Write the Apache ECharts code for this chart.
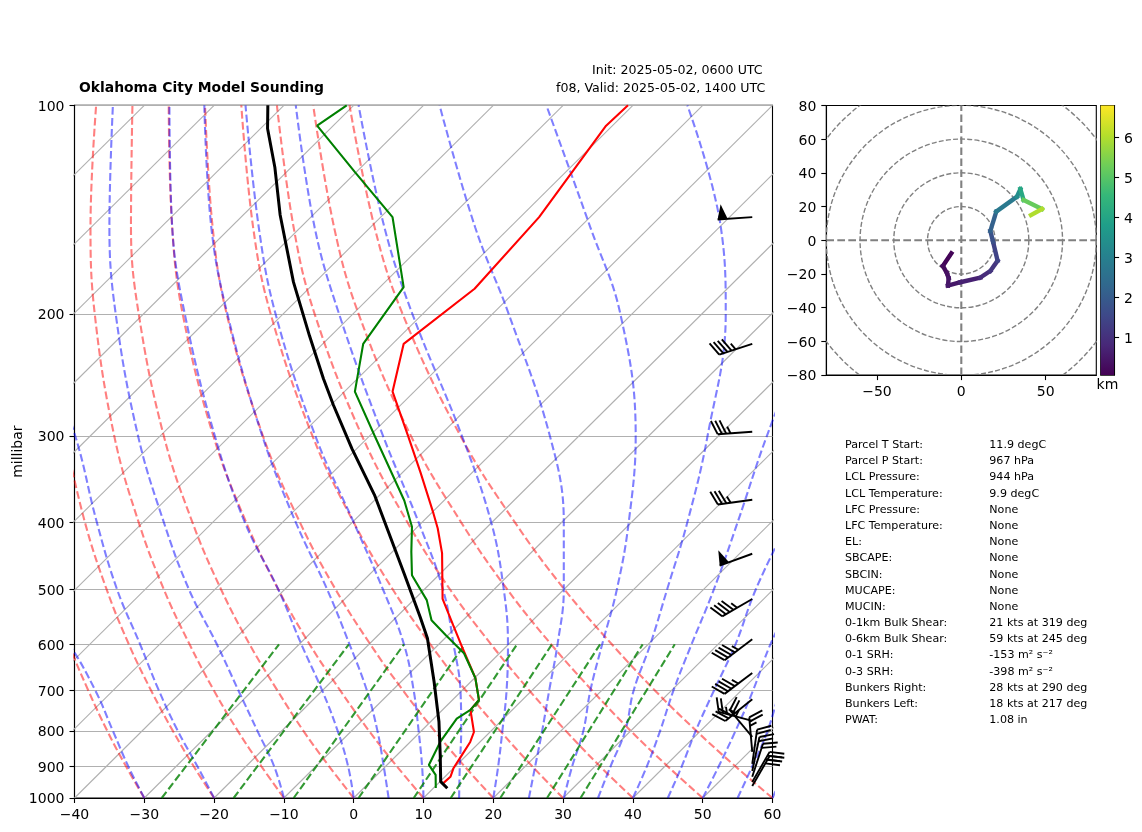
<!DOCTYPE html>
<html>
<head>
<meta charset="utf-8">
<title>Oklahoma City Model Sounding</title>
<script src="https://cdn.jsdelivr.net/npm/echarts@6/dist/echarts.min.js"></script>
<style>
  html, body { margin: 0; padding: 0; background: #fff; }
  #main { width: 1142px; height: 832px; }
</style>
</head>
<body>
<div id="main"></div>
<script>
// sounding profiles (hPa, degC)
var tempP = [100, 107, 145, 184, 221, 259, 300, 339, 388, 408, 443, 516, 563, 612, 671, 722, 746, 803, 830, 867, 906, 932, 951];
var tempC = [-60.7, -60.9, -57.3, -56.2, -58.4, -53.1, -44.5, -37.4, -29.7, -26.9, -22.7, -16, -10.7, -5.6, 0.1, 3.8, 4, 7.7, 8.6, 9.3, 10, 10.8, 10.7];
var dewP = [100, 107, 125, 145, 183, 221, 259, 299, 372, 406, 441, 477, 518, 554, 582, 618, 671, 722, 746, 768, 830, 896, 926, 967];
var dewC = [-101, -102.3, -90.1, -78.3, -66.6, -64.2, -58.5, -49.5, -35.7, -30.8, -27.3, -23.8, -18.1, -14.5, -10.3, -5.1, 0.1, 3.8, 4, 3.3, 4.3, 6, 8.4, 10.3];
var parcelP = [100, 108, 123, 144, 180, 215, 248, 271, 313, 365, 474, 548, 588, 679, 776, 867, 947, 968];
var parcelC = [-112.3, -109, -102.3, -94.7, -83.1, -73.1, -64.9, -59.6, -50.7, -40.8, -25.2, -16.6, -12.5, -5.3, 1.2, 6.2, 10.1, 12];

// wind barbs: pressure, speed in kts, direction in degrees
var barbP = [145, 221, 296, 371, 444, 516, 590, 660, 720, 774, 816, 858, 893, 914, 932, 948, 961];
var barbSpeed = [50, 45, 35, 35, 50, 45, 45, 45, 35, 25, 25, 25, 20, 20, 20, 30, 30];
var barbDir = [266, 252, 266, 262, 250, 240, 233, 233, 231, 285, 320, 355, 8, 12, 18, 30, 30];
var barbAxisT = 57.1;

// background lines
var pressureTicks = [100, 200, 300, 400, 500, 600, 700, 800, 900, 1000];
var isotherms = [-130, -120, -110, -100, -90, -80, -70, -60, -50, -40, -30, -20, -10, 0, 10, 20, 30, 40, 50, 60];
var curveLevels = [1000, 900, 800, 700, 600, 500, 400, 300, 200, 150, 100];
// dry adiabats, degC at curveLevels
var dryCurves = [
  [-30, -37.2, -45, -53.5, -63, -73.7],
  [-20, -27.5, -35.6, -44.5, -54.4, -65.5, -78.3, -93.7],
  [-10, -17.8, -26.3, -35.5, -45.7, -57.3, -70.6, -86.6, -107, -120.1, -136.9],
  [0, -8.1, -16.9, -26.4, -37.1, -49.1, -62.9, -79.5, -100.7, -114.3, -131.7],
  [10, 1.6, -7.5, -17.4, -28.5, -40.9, -55.2, -72.4, -94.4, -108.4, -126.5],
  [20, 11.3, 1.9, -8.4, -19.8, -32.7, -47.5, -65.3, -88.1, -102.6, -121.3],
  [30, 21, 11.3, 0.6, -11.2, -24.5, -39.8, -58.2, -81.8, -96.8, -116.1],
  [40, 30.7, 20.7, 9.7, -2.5, -16.3, -32.1, -51.1, -75.5, -91, -111],
  [50, 40.4, 30, 18.7, 6.1, -8.1, -24.4, -44.1, -69.2, -85.2, -105.8],
  [60, 50.1, 39.4, 27.7, 14.8, 0.1, -16.7, -37, -62.9, -79.4, -100.6]
];
// moist adiabats, reading on the bottom axis at curveLevels
var moistCurves = [
  [-30, -32.3, -34.5, -37, -40.8, -47],
  [-20, -22.4, -25.2, -27.9, -30.6, -33.9, -36.8, -39.9, -46],
  [-10, -11.4, -13.8, -16.5, -19.6, -23.6, -27.2, -30.9, -34.1, -35, -34.5],
  [0, -0.8, -2.3, -4.5, -7.5, -10.8, -15.6, -19.9, -24.2, -26, -26.4],
  [5, 4.3, 3.4, 1.9, -0.6, -3.8, -8.3, -13.1, -18.1, -20.4, -21.4],
  [10, 9.8, 9.3, 8.6, 7.2, 4.2, 0, -5.5, -11.2, -13.6, -15.5],
  [15.1, 15.2, 15.4, 15.3, 14.3, 12.8, 9.3, 4.2, -2.1, -5.6, -8.3],
  [20, 20.7, 21.3, 21.9, 22.1, 21.5, 19.7, 15.5, 8.4, 4.4, 0.7],
  [25.1, 26, 27, 28, 29.2, 30.1, 30.1, 28.1, 22.2, 17.4, 12.3],
  [30.1, 31.3, 32.9, 33.9, 35.6, 37.7, 39.4, 40.4, 38.2, 33.9, 27.6],
  [35, 36.8, 38.9, 40.1, 42.5, 44.9, 47.8, 50.7, 53.3, 52.6, 47.8],
  [40, 42, 43.9, 45.8, 48.4, 51.6, 55, 59.2, 66],
  [45, 47, 49, 51.6, 54.7, 57.6, 62.2],
  [50, 52.3, 54.7, 57.2, 59.7, 63.5],
  [55, 57.1, 59.3, 61],
  [60, 62]
];
// mixing ratio lines, reading on the bottom axis at 1000 and 600 hPa
var mixingBottom = [-27.5, -17.2, -8.6, 0.7, 8.6, 13.9, 21, 27.7, 32.5];
var mixingTop = [-10.7, -0.7, 7.2, 15.9, 23.4, 28.4, 35.3, 41.4, 46];

// hodograph
var hodoU = [-5.9, -10.9, -8.5, -7.5, -7.9, -0.6, 11.3, 17.2, 21.5, 18.8, 17.2, 20.7, 33, 35, 36.9, 47.8, 41.3];
var hodoV = [-7.7, -15.2, -19.6, -22.5, -26.9, -24.9, -22.1, -18.2, -12.1, -0.8, 5.5, 17, 25.9, 30.4, 23.9, 18.6, 15];
var hodoKm = [0.06, 0.2, 0.3, 0.4, 0.45, 0.55, 0.8, 1, 1.25, 1.6, 1.9, 2.4, 3.2, 3.5, 4.7, 5.7, 6.3];
var hodoRings = [20, 40, 60, 80, 100];
var viridis = ['#440154', '#482878', '#3e4989', '#31688e', '#26828e', '#1f9e89', '#35b779', '#6ece58', '#b5de2b', '#fde725'];

// parcel text table
var infoLabels = ['Parcel T Start:', 'Parcel P Start:', 'LCL Pressure:', 'LCL Temperature:', 'LFC Pressure:', 'LFC Temperature:', 'EL:', 'SBCAPE:', 'SBCIN:', 'MUCAPE:', 'MUCIN:', '0-1km Bulk Shear:', '0-6km Bulk Shear:', '0-1 SRH:', '0-3 SRH:', 'Bunkers Right:', 'Bunkers Left:', 'PWAT:'];
var infoValues = ['11.9 degC', '967 hPa', '944 hPa', '9.9 degC', 'None', 'None', 'None', 'None', 'None', 'None', 'None', '21 kts at 319 deg', '59 kts at 245 deg', '-153 m\u00b2 s\u207b\u00b2', '-398 m\u00b2 s\u207b\u00b2', '28 kts at 290 deg', '18 kts at 217 deg', '1.08 in'];

var FONT = '"DejaVu Sans"';
var KM_MIN = 0.057, KM_MAX = 6.8;

function logP(p) { return Math.log10(p); }
function skew(p) { return 100 * (3 - Math.log10(p)); }
function minusSign(v) { return String(v).replace('-', '\u2212'); }
// y axis labels sit a little below the tick, as in the reference
function nudged(text) { return '{t|' + text + '}'; }
var nudgeRich = { t: { color: '#000', fontSize: 14, fontFamily: FONT, padding: [3.4, 0, 0, 0] } };

function skewLine(ps, ts, style, z, smooth) {
  return {
    type: 'line', xAxisIndex: 0, yAxisIndex: 0, silent: true, animation: false,
    symbol: 'none', smooth: smooth || false, z: z, lineStyle: style,
    data: ts.map(function (t, i) { return [t + skew(ps[i]), logP(ps[i])]; })
  };
}

var series = [];
var greyLine = { color: '#b0b0b0', width: 1.1 };
var redDash = { color: 'rgba(255,0,0,0.5)', width: 2.1, type: [7.7, 3.3] };
var blueDash = { color: 'rgba(0,0,255,0.5)', width: 2.1, type: [7.7, 3.3] };
var greenDash = { color: 'rgba(0,128,0,0.8)', width: 2.1, type: [7.7, 3.3] };

isotherms.forEach(function (t) {
  series.push(skewLine([1000, 100], [t, t], greyLine, 1));
});
dryCurves.forEach(function (c) {
  series.push(skewLine(curveLevels.slice(0, c.length), c, redDash, 2, 0.4));
});
moistCurves.forEach(function (c) {
  var ps = curveLevels.slice(0, c.length);
  var ts = c.map(function (x, i) { return x - skew(ps[i]); });
  series.push(skewLine(ps, ts, blueDash, 2, 0.4));
});
mixingBottom.forEach(function (x, i) {
  series.push(skewLine([1000, 600], [x, mixingTop[i] - skew(600)], greenDash, 2));
});
series.push(skewLine(tempP, tempC, { color: '#ff0000', width: 2.1 }, 3));
series.push(skewLine(dewP, dewC, { color: '#008000', width: 2.1 }, 4));
series.push(skewLine(parcelP, parcelC, { color: '#000', width: 3 }, 5));

// wind barbs
series.push({
  type: 'custom', xAxisIndex: 0, yAxisIndex: 0, silent: true, animation: false, z: 6, clip: false,
  data: barbP.map(function (p, i) { return [barbAxisT, logP(p), barbSpeed[i], barbDir[i]]; }),
  encode: { x: 0, y: 1 },
  renderItem: function (params, api) {
    var tip = api.coord([api.value(0), api.value(1)]);
    var speed = Math.round(api.value(2) / 5) * 5;
    var b = api.value(3) * Math.PI / 180;
    var LEN = 34.7, FEATHER = 14.8, GAP = 4.3;
    var ux = Math.sin(b), uy = -Math.cos(b);
    var fb = b + 67 * Math.PI / 180;
    var fx = Math.sin(fb), fy = -Math.cos(fb);
    var px = Math.sin(b + Math.PI / 2), py = -Math.cos(b + Math.PI / 2);
    var stroke = { stroke: '#000', lineWidth: 1.9, fill: null };
    var kids = [{ type: 'line', shape: { x1: tip[0], y1: tip[1], x2: tip[0] + ux * LEN, y2: tip[1] + uy * LEN }, style: stroke }];
    var along = LEN;
    while (speed >= 50) {
      var ex = tip[0] + ux * along, ey = tip[1] + uy * along;
      kids.push({
        type: 'polygon',
        shape: { points: [[ex, ey], [ex - ux * 10, ey - uy * 10], [ex - ux * 4 + px * 15, ey - uy * 4 + py * 15]] },
        style: { fill: '#000' }
      });
      along -= 11;
      speed -= 50;
    }
    while (speed > 0) {
      var size = speed >= 10 ? FEATHER : FEATHER / 2;
      var sx = tip[0] + ux * along, sy = tip[1] + uy * along;
      kids.push({ type: 'line', shape: { x1: sx, y1: sy, x2: sx + fx * size, y2: sy + fy * size }, style: stroke });
      along -= GAP;
      speed -= speed >= 10 ? 10 : 5;
    }
    return { type: 'group', children: kids };
  }
});

// hodograph rings and centre lines
series.push({
  type: 'custom', xAxisIndex: 1, yAxisIndex: 1, silent: true, animation: false, z: 1, clip: true,
  data: hodoRings.map(function (r) { return [r]; }),
  encode: { x: -1, y: -1 },
  renderItem: function (params, api) {
    var c = api.coord([0, 0]);
    var r = api.size([api.value(0), 0])[0];
    return {
      type: 'circle', shape: { cx: c[0], cy: c[1], r: r },
      style: { fill: null, stroke: '#808080', lineWidth: 1.4, lineDash: [5, 2.2] }
    };
  }
});
var centreDash = { color: '#808080', width: 2.1, type: [7.7, 3.3] };
[[[-80, 0], [80, 0]], [[0, -80], [0, 80]]].forEach(function (d) {
  series.push({
    type: 'line', xAxisIndex: 1, yAxisIndex: 1, silent: true, animation: false,
    symbol: 'none', z: 2, lineStyle: centreDash, data: d
  });
});
// hodograph trace, one piece per height step so the colour can follow height
function kmColor(km) {
  return echarts.color.lerp((km - KM_MIN) / (KM_MAX - KM_MIN), viridis);
}
for (var i = 0; i < hodoU.length - 1; i++) {
  series.push({
    type: 'line', xAxisIndex: 1, yAxisIndex: 1, silent: true, animation: false,
    symbol: 'none', z: 3,
    lineStyle: { color: kmColor((hodoKm[i] + hodoKm[i + 1]) / 2), width: 4.4, cap: 'square' },
    data: [[hodoU[i], hodoV[i]], [hodoU[i + 1], hodoV[i + 1]]]
  });
}
// colorbar
series.push({
  type: 'bar', xAxisIndex: 2, yAxisIndex: 2, silent: true, animation: false, barWidth: '100%',
  data: [{
    value: KM_MAX,
    itemStyle: {
      color: new echarts.graphic.LinearGradient(0, 1, 0, 0, viridis.map(function (c, i) {
        return { offset: i / (viridis.length - 1), color: c };
      }))
    }
  }]
});

var tickStyle = { show: true, length: 5, lineStyle: { color: '#000', width: 1.1 } };
var spine = { show: true, onZero: false, lineStyle: { color: '#000', width: 1.1 } };

var texts = [
  { x: 79, y: 88.5, text: 'Oklahoma City Model Sounding', size: 13.9, weight: 'bold' },
  { x: 592, y: 70.5, text: 'Init: 2025-05-02, 0600 UTC', size: 12.6 },
  { x: 556, y: 88.5, text: 'f08, Valid: 2025-05-02, 1400 UTC', size: 12.6 }
];
infoLabels.forEach(function (t, i) {
  texts.push({ x: 845, y: 445.2 + i * 16.18, text: t, size: 11.1 });
  texts.push({ x: 989.3, y: 445.2 + i * 16.18, text: infoValues[i], size: 11.1 });
});

var option = {
  backgroundColor: '#fff',
  animation: false,
  textStyle: { fontFamily: FONT },
  grid: [
    { left: 74.5, top: 105.3, width: 698, height: 692.7, show: true, borderColor: '#000', borderWidth: 1.1, outerBoundsMode: 'none' },
    { left: 826.3, top: 105.5, width: 270, height: 269.6, show: true, borderColor: '#000', borderWidth: 1.1, outerBoundsMode: 'none' },
    { left: 1100.7, top: 105.5, width: 13.4, height: 269.6, show: true, borderColor: '#000', borderWidth: 1.1, outerBoundsMode: 'none' }
  ],
  xAxis: [
    {
      gridIndex: 0, type: 'value', min: -40, max: 60, interval: 10, splitLine: { show: false },
      axisLine: spine, axisTick: tickStyle,
      axisLabel: { margin: 10, formatter: minusSign, color: '#000', fontSize: 14, fontFamily: FONT }
    },
    {
      gridIndex: 1, type: 'value', min: -80, max: 80, splitLine: { show: false },
      axisLine: spine, axisTick: { show: true, length: 5, lineStyle: { color: '#000', width: 1.1 }, customValues: [-50, 0, 50] },
      axisLabel: { customValues: [-50, 0, 50], margin: 10, formatter: minusSign, color: '#000', fontSize: 14, fontFamily: FONT }
    },
    {
      gridIndex: 2, type: 'category', data: ['km'], axisLine: { show: false }, axisTick: { show: false },
      splitLine: { show: false },
      axisLabel: { margin: 3, color: '#000', fontSize: 14, fontFamily: FONT, interval: 0 }
    }
  ],
  yAxis: [
    {
      gridIndex: 0, type: 'value', min: 2, max: 3, inverse: true,
      name: 'millibar', nameLocation: 'middle', nameGap: 49, nameRotate: 90, nameMoveOverlap: false,
      nameTextStyle: { color: '#000', fontSize: 14, fontFamily: FONT },
      axisLine: spine,
      axisTick: { show: true, length: 5, lineStyle: { color: '#000', width: 1.1 }, customValues: pressureTicks.map(logP) },
      axisLabel: {
        customValues: pressureTicks.map(logP), margin: 10, rich: nudgeRich,
        formatter: function (v) { return nudged(Math.round(Math.pow(10, v))); }
      },
      splitLine: { show: true, lineStyle: { color: '#b0b0b0', width: 1.1 } }
    },
    {
      gridIndex: 1, type: 'value', min: -80, max: 80, interval: 20, splitLine: { show: false },
      axisLine: spine, axisTick: tickStyle,
      axisLabel: { margin: 10, rich: nudgeRich, formatter: function (v) { return nudged(minusSign(v)); } }
    },
    {
      gridIndex: 2, type: 'value', min: KM_MIN, max: KM_MAX, position: 'right', splitLine: { show: false },
      axisLine: spine,
      axisTick: { show: true, length: 5, lineStyle: { color: '#000', width: 1.1 }, customValues: [1, 2, 3, 4, 5, 6] },
      axisLabel: { customValues: [1, 2, 3, 4, 5, 6], margin: 10, rich: nudgeRich, formatter: nudged }
    }
  ],
  series: series,
  graphic: texts.map(function (t) {
    return {
      type: 'text', x: t.x, y: t.y, silent: true,
      style: { text: t.text, fill: '#000', font: (t.weight || 'normal') + ' ' + t.size + 'px ' + FONT, textVerticalAlign: 'middle' }
    };
  })
};

var chart = echarts.init(document.getElementById('main'));
chart.setOption(option);
</script>
</body>
</html>
